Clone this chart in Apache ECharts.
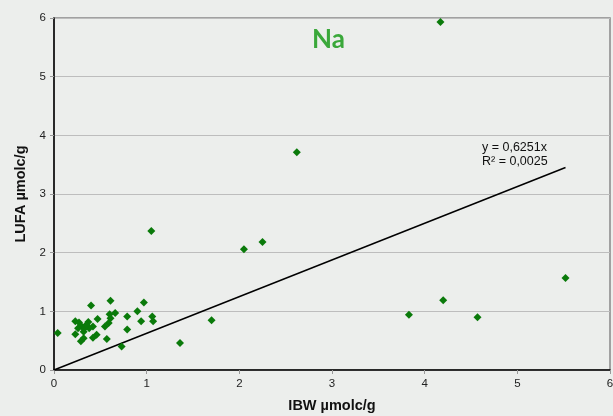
<!DOCTYPE html>
<html><head><meta charset="utf-8">
<script src="https://cdn.jsdelivr.net/npm/echarts@6/dist/echarts.min.js"></script>
<style>html,body{margin:0;padding:0;background:#eceeec}#c{width:613px;height:416px}</style>
</head><body><div id="c"></div>
<script>
const ibw = [4.17,2.62,1.05,2.05,2.25,1.70,1.36,3.83,4.20,4.57,5.52,0.04,
  0.40,0.61,0.97,0.90,1.06,1.07,0.94,0.79,0.79,0.73,0.66,0.60,0.61,0.59,0.55,0.57,
  0.47,0.42,0.46,0.42,0.32,0.29,0.23,0.23,0.27,0.37,0.30,0.33,0.38,0.26,0.32,0.35];
const lufa = [5.93,3.71,2.37,2.06,2.18,0.85,0.46,0.94,1.19,0.90,1.57,0.63,
  1.10,1.18,1.15,1.00,0.91,0.83,0.83,0.91,0.69,0.40,0.97,0.95,0.88,0.80,0.74,0.53,
  0.87,0.74,0.60,0.55,0.54,0.49,0.61,0.83,0.81,0.82,0.74,0.71,0.71,0.71,0.65,0.77];
const slope = 0.6251;
const r2 = 0.0025;
const xTicks = [0,1,2,3,4,5,6];
const yTicks = [0,1,2,3,4,5,6];

const pts = ibw.map((x,i)=>[x,lufa[i]]);
const xMax = Math.max(...ibw);
const fmt = v => String(v).replace('.', ',');

const chart = echarts.init(document.getElementById('c'));
chart.setOption({
  backgroundColor:'#eceeec',
  animation:false,
  title:{text:'Na',left:307,top:22,textStyle:{color:'#3aa83a',fontSize:26,fontWeight:'bold',fontFamily:'Lato, Liberation Sans, Arial'}},
  grid:{left:54,right:3,top:18,bottom:46,outerBoundsMode:'none',containLabel:false,show:true,borderColor:'#888',borderWidth:1.5,backgroundColor:'#eceeec'},
  xAxis:{type:'value',min:0,max:6,interval:1,
    name:'IBW µmolc/g',nameLocation:'middle',nameGap:28,
    nameTextStyle:{fontWeight:'bold',fontSize:14.5,color:'#111',fontFamily:'Liberation Sans, Arial'},
    axisLine:{lineStyle:{color:'#000',width:1.5}},
    axisTick:{show:true,length:4,lineStyle:{color:'#999'}},
    axisLabel:{color:'#222',fontSize:11.5,margin:8,fontFamily:'Liberation Sans, Arial',formatter:v=>xTicks.includes(v)?String(v):''},
    splitLine:{show:false}},
  yAxis:{type:'value',min:0,max:6,interval:1,
    name:'LUFA µmolc/g',nameLocation:'middle',nameGap:26,
    nameTextStyle:{fontWeight:'bold',fontSize:14.5,color:'#111',fontFamily:'Liberation Sans, Arial'},
    axisLine:{show:true,lineStyle:{color:'#000',width:1.5}},
    axisTick:{show:true,length:4,lineStyle:{color:'#999'}},
    axisLabel:{color:'#222',fontSize:11.5,margin:8,fontFamily:'Liberation Sans, Arial',formatter:v=>yTicks.includes(v)?String(v):''},
    splitLine:{show:true,lineStyle:{color:'#bdbdbd',width:1}}},
  graphic:[{type:'text',left:482,top:141,style:{text:'y = '+fmt(slope)+'x\nR² = '+fmt(r2),fill:'#111',fontSize:12.5,lineHeight:14,fontFamily:'Liberation Sans, Arial'}}],
  series:[
    {type:'line',data:[[0,0],[xMax,slope*xMax]],symbol:'none',lineStyle:{color:'#000',width:1.5},z:1},
    {type:'scatter',data:pts,symbol:'diamond',symbolSize:8,itemStyle:{color:'#0a7a0a',opacity:1},z:2}
  ]
});
</script></body></html>
